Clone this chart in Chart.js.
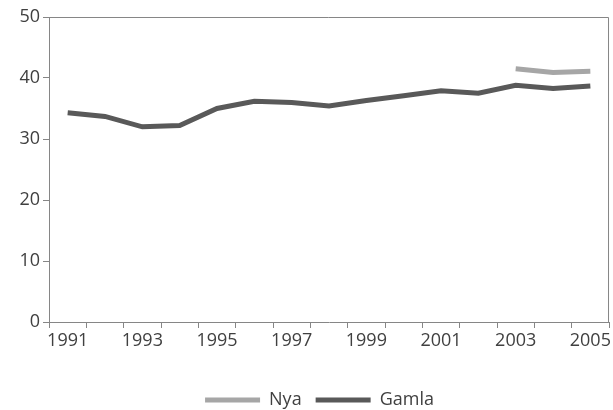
<!DOCTYPE html>
<html>
<head>
<meta charset="utf-8">
<script src="https://cdn.jsdelivr.net/npm/chart.js@4.4.0/dist/chart.umd.min.js"></script>
<style>
  html, body { margin: 0; padding: 0; background: #fff; }
  #wrap { width: 613px; height: 410px; }
</style>
</head>
<body>
<div id="wrap"><canvas id="chart" width="613" height="410"></canvas></div>
<script>
const years = ['1991', '1992', '1993', '1994', '1995', '1996', '1997', '1998',
               '1999', '2000', '2001', '2002', '2003', '2004', '2005'];
const nya = [null, null, null, null, null, null, null, null,
             null, null, null, null, 41.5, 40.9, 41.1];
const gamla = [34.3, 33.7, 32.0, 32.2, 35.0, 36.2, 36.0, 35.4,
               36.3, 37.1, 37.9, 37.5, 38.8, 38.3, 38.7];
const yTicks = [0, 10, 20, 30, 40, 50];

const axisGray = '#868686';
const textColor = '#404040';

// box round the plot area, like the spreadsheet original
const frame = {
    id: 'frame',
    afterLayout(chart) {
        // nudge the legend down and right to where the original has it
        const lg = chart.legend;
        lg.top += 9;
        lg.bottom += 9;
        lg.left += 14;
        lg.right += 14;
    },
    afterDraw(chart) {
        const a = chart.chartArea;
        const c = chart.ctx;
        c.save();
        c.strokeStyle = axisGray;
        c.lineWidth = 1;
        c.beginPath();
        c.moveTo(a.left, a.top + 0.5);
        c.lineTo(a.right - 0.5, a.top + 0.5);
        c.lineTo(a.right - 0.5, a.bottom);
        c.stroke();
        c.restore();
    }
};

Chart.defaults.font.family = '"Open Sans", sans-serif';
Chart.defaults.font.size = 18;
Chart.defaults.color = textColor;

new Chart(document.getElementById('chart'), {
    type: 'line',
    data: {
        labels: years,
        datasets: [{
            label: 'Nya',
            data: nya,
            borderColor: '#a6a6a6',
            backgroundColor: '#a6a6a6',
            borderWidth: 5,
            pointRadius: 0,
            tension: 0
        }, {
            label: 'Gamla',
            data: gamla,
            borderColor: '#595959',
            backgroundColor: '#595959',
            borderWidth: 5,
            pointRadius: 0,
            tension: 0
        }]
    },
    options: {
        responsive: false,
        animation: false,
        layout: {
            padding: { top: 17, right: 2, left: 0, bottom: 0 }
        },
        plugins: {
            tooltip: { enabled: false },
            legend: {
                position: 'bottom',
                labels: {
                    boxWidth: 55,
                    boxHeight: 5,
                    padding: 14,
                    font: { size: 18 },
                    generateLabels: function(chart) {
                        return Chart.defaults.plugins.legend.labels.generateLabels(chart)
                            .map(l => Object.assign(l, { lineWidth: 0 }));
                    }
                }
            }
        },
        scales: {
            x: {
                offset: true,
                grid: {
                    offset: true,
                    drawOnChartArea: false,
                    color: axisGray,
                    tickLength: 6
                },
                border: { color: axisGray },
                ticks: {
                    autoSkip: false,
                    maxRotation: 0,
                    padding: 2,
                    callback: function(val, i) {
                        return i % 2 === 0 ? this.getLabelForValue(val) : '';
                    }
                },
                afterFit: function(scale) { scale.height = 46; }
            },
            y: {
                min: 0,
                max: 50,
                afterBuildTicks: function(scale) {
                    scale.ticks = yTicks.map(v => ({ value: v }));
                },
                grid: {
                    drawOnChartArea: false,
                    color: axisGray,
                    tickLength: 6
                },
                border: { color: axisGray },
                ticks: { padding: 3 },
                afterFit: function(scale) { scale.width = 49; }
            }
        }
    },
    plugins: [frame]
});
</script>
</body>
</html>
